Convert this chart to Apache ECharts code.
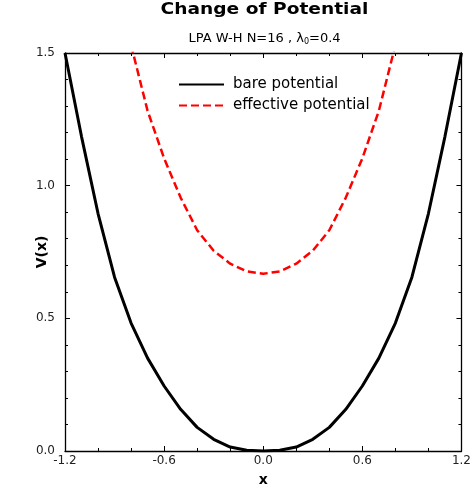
<!DOCTYPE html>
<html><head><meta charset="utf-8">
<script src="https://cdn.jsdelivr.net/npm/echarts@6/dist/echarts.min.js"></script>
<style>html,body{margin:0;padding:0;background:#fff}#c{width:474px;height:492px}</style>
</head><body><div id="c"></div>
<script>
const xs = [-1.2,-1.1,-1.0,-0.9,-0.8,-0.7,-0.6,-0.5,-0.4,-0.3,-0.2,-0.1,0.0,0.1,0.2,0.3,0.4,0.5,0.6,0.7,0.8,0.9,1.0,1.1,1.2];
const bare = [1.5,1.185,0.895,0.655,0.482,0.350,0.245,0.157,0.089,0.044,0.015,0.003,0.0,0.003,0.015,0.044,0.089,0.157,0.245,0.350,0.482,0.655,0.895,1.185,1.5];
const effXs = [-0.8,-0.7,-0.6,-0.5,-0.4,-0.3,-0.2,-0.1,0.0,0.1,0.2,0.3,0.4,0.5,0.6,0.7,0.8];
const eff = [1.53,1.282,1.103,0.955,0.832,0.755,0.706,0.677,0.668,0.677,0.706,0.755,0.832,0.955,1.103,1.282,1.53];
const xTicks = [-1.2,-0.6,0.0,0.6,1.2];
const yTicks = [0.0,0.5,1.0,1.5];
const seriesNames = ['bare potential','effective potential'];

const font = '"DejaVu Sans", Verdana, sans-serif';
const chart = echarts.init(document.getElementById('c'));
const fmt = v => Number(v).toFixed(1);
const axLine = {show:true,onZero:false,lineStyle:{color:'#000',width:1.3}};
const axTick = {show:true,inside:true,length:5,lineStyle:{color:'#000'}};
chart.setOption({
  animation:false,
  backgroundColor:'#fff',
  graphic:[
    {type:'text',x:264.5,y:3,scaleX:1.24,scaleY:1,originX:0,originY:0,style:{text:'Change of Potential',font:'bold 15px '+font,fill:'#000',align:'center',verticalAlign:'top'}},
    {type:'text',x:264.5,y:31,style:{text:'LPA W-H N=16 , λ{s|0}=0.4',font:'13px '+font,fill:'#000',align:'center',verticalAlign:'top',
      rich:{s:{fontSize:8,fontFamily:font,verticalAlign:'bottom',padding:[7,0,0,0]}}}}
  ],
  grid:{left:65,right:10,top:53,bottom:40,containLabel:false},
  legend:{
    data:seriesNames, orient:'vertical', left:173, top:72,
    itemWidth:45, itemHeight:14, itemGap:6,
    itemStyle:{opacity:0},
    textStyle:{fontFamily:font,fontSize:15,color:'#000',padding:[0,0,0,4]}
  },
  xAxis:[
    {type:'value',min:-1.2,max:1.2,interval:0.6,
      axisLine:axLine,axisTick:axTick,splitLine:{show:false},
      minorTick:{show:true,splitNumber:3,length:3,lineStyle:{color:'#000'}},
      axisLabel:{formatter:fmt,fontFamily:font,fontSize:12,color:'#222',margin:4,customValues:xTicks},
      name:'x',nameLocation:'middle',nameGap:22,nameMoveOverlap:false,nameTextStyle:{fontFamily:font,fontSize:14,fontWeight:'bold',color:'#000'}},
    {type:'value',position:'top',min:-1.2,max:1.2,interval:0.6,
      axisLine:axLine,axisTick:axTick,splitLine:{show:false},
      minorTick:{show:true,splitNumber:3,length:3,lineStyle:{color:'#000'}},
      axisLabel:{show:false}}
  ],
  yAxis:[
    {type:'value',min:0,max:1.5,interval:0.5,
      axisLine:axLine,axisTick:axTick,splitLine:{show:false},
      minorTick:{show:true,splitNumber:5,length:3,lineStyle:{color:'#000'}},
      axisLabel:{formatter:fmt,fontFamily:font,fontSize:12,color:'#222',margin:10,customValues:yTicks},
      name:'V(x)',nameLocation:'middle',nameGap:16,nameMoveOverlap:false,nameRotate:90,nameTextStyle:{fontFamily:font,fontSize:14,fontWeight:'bold',color:'#000'}},
    {type:'value',position:'right',min:0,max:1.5,interval:0.5,
      axisLine:axLine,axisTick:axTick,splitLine:{show:false},
      minorTick:{show:true,splitNumber:5,length:3,lineStyle:{color:'#000'}},
      axisLabel:{show:false}}
  ],
  series:[
    {name:seriesNames[0],type:'line',xAxisIndex:0,yAxisIndex:0,showSymbol:false,symbol:'none',clip:true,
      lineStyle:{color:'#000',width:3},itemStyle:{color:'#000'},
      data:xs.map((x,i)=>[x,bare[i]])},
    {name:seriesNames[1],type:'line',xAxisIndex:0,yAxisIndex:0,showSymbol:false,symbol:'none',clip:true,
      lineStyle:{color:'#f00',width:2.5,type:[8,4]},itemStyle:{color:'#f00'},
      data:effXs.map((x,i)=>[x,eff[i]])}
  ]
});
</script></body></html>
